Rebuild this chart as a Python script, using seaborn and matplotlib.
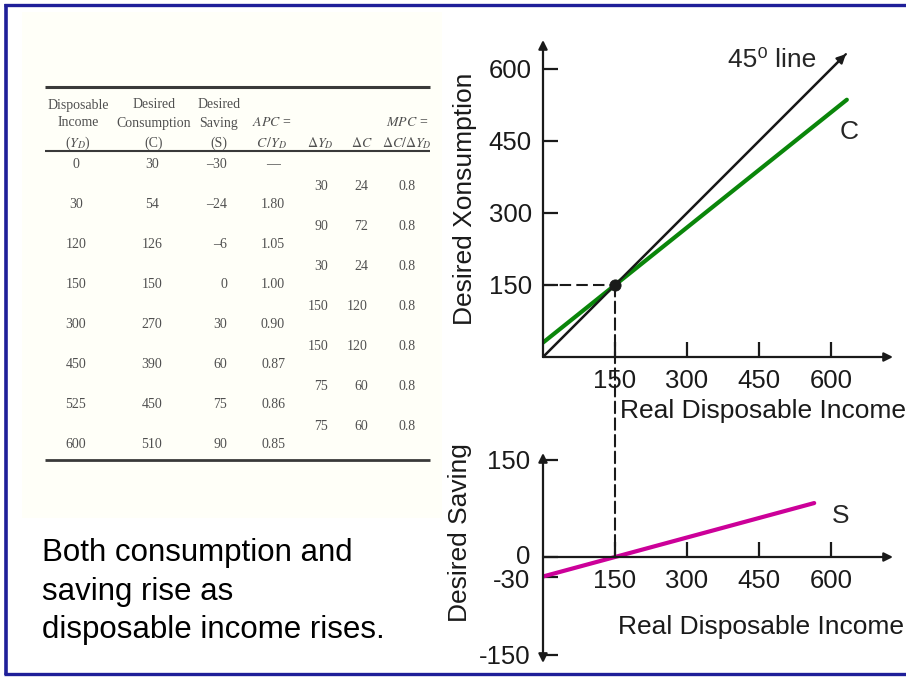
import matplotlib
matplotlib.use("Agg")
import matplotlib.pyplot as plt
import matplotlib.transforms as mtransforms
import seaborn as sns
from matplotlib.patches import Rectangle, ConnectionPatch

# ---------------- data ----------------
income = [0, 30, 120, 150, 300, 450, 525, 600]
consumption = [30, 54, 126, 150, 270, 390, 450, 510]
saving = [-30, -24, -6, 0, 30, 60, 75, 90]
apc = ["—", "1.80", "1.05", "1.00", "0.90", "0.87", "0.86", "0.85"]
delta_yd = [30, 90, 30, 150, 150, 75, 75]
delta_c = [24, 72, 24, 120, 120, 60, 60]
mpc = ["0.8", "0.8", "0.8", "0.8", "0.8", "0.8", "0.8"]

line45_x = [0, 631]
line45_y = [0, 631]
c_line_x = [0, 633]
c_line_y = [30, 536]
s_line_x = [0, 565]
s_line_y = [-30, 83]
eq_x = [150]
eq_y = [150]

top_xticks = [150, 300, 450, 600]
top_yticks = [150, 300, 450, 600]
bot_xticks = [150, 300, 450, 600]
bot_yticks = [150, 0, -30, -150]

# ---------------- style ----------------
sns.set_theme(style="white")
plt.rcParams["font.family"] = ["Liberation Sans", "DejaVu Sans"]
plt.rcParams["mathtext.fontset"] = "stix"
plt.rcParams["axes.unicode_minus"] = False

W, H = 906, 677
fig = plt.figure(figsize=(W / 100, H / 100), dpi=100)
fig.patch.set_facecolor("white")

# background / slide layer in pixel coordinates
bg = fig.add_axes([0, 0, 1, 1], zorder=-1)
bg.set_xlim(0, W)
bg.set_ylim(H, 0)
bg.axis("off")
bg.add_patch(Rectangle((22, 12), 420, 506, facecolor="#fffff8", edgecolor="none"))
border = "#1f1f99"
bg.plot([4, W], [5, 5], color=border, lw=2.4, solid_capstyle="butt")
bg.plot([6, 6], [4, 675], color=border, lw=2.6, solid_capstyle="butt")
bg.plot([4, W], [674, 674], color=border, lw=2.4, solid_capstyle="butt")

# ---------------- table ----------------
tc = "#505050"
serif = ["Liberation Serif", "DejaVu Serif"]
tfs = 10
bg.plot([45, 430], [87, 87], color="#3a3a3a", lw=2.2, solid_capstyle="butt")
bg.plot([45, 430], [151, 151], color="#3a3a3a", lw=1.5, solid_capstyle="butt")
bg.plot([45, 430], [460, 460], color="#3a3a3a", lw=2.0, solid_capstyle="butt")

headers = [
    (78, ["Disposable", "Income", r"($Y_D$)"]),
    (154, ["Desired", "Consumption", "(C)"]),
    (219, ["Desired", "Saving", "(S)"]),
    (272, ["", r"$APC$ =", r"$C\,/Y_D$"]),
    (320, ["", "", r"$\Delta Y_D$"]),
    (362, ["", "", r"$\Delta C$"]),
    (407, ["", r"$MPC$ =", r"$\Delta C/\Delta Y_D$"]),
]
head_y = [105, 123, 143]
for hx, lines in headers:
    for ly, s in zip(head_y, lines):
        if s:
            bg.text(hx, ly, s, ha="center", va="center", fontsize=tfs,
                    color=tc, family=serif)


def fmt_neg(v):
    return f"\u2013{abs(v)}" if v < 0 else f"{v}"


for i in range(len(income)):
    ry = 165 + 40 * i
    bg.text(76, ry, f"{income[i]}", ha="center", va="center", fontsize=tfs, color=tc, family=serif)
    bg.text(152, ry, f"{consumption[i]}", ha="center", va="center", fontsize=tfs, color=tc, family=serif)
    bg.text(227, ry, fmt_neg(saving[i]), ha="right", va="center", fontsize=tfs, color=tc, family=serif)
    bg.text(273, ry, apc[i], ha="center", va="center", fontsize=tfs, color=tc, family=serif)
for i in range(len(delta_yd)):
    ry = 186 + 40 * i
    bg.text(328, ry, f"{delta_yd[i]}", ha="right", va="center", fontsize=tfs, color=tc, family=serif)
    bg.text(368, ry, f"{delta_c[i]}", ha="right", va="center", fontsize=tfs, color=tc, family=serif)
    bg.text(407, ry, mpc[i], ha="center", va="center", fontsize=tfs, color=tc, family=serif)

# caption text
for ly, s in zip([561, 600, 638], ["Both consumption and", "saving rise as",
                                   "disposable income rises."]):
    bg.text(42, ly, s, ha="left", va="baseline", fontsize=22.5, color="black")

# ---------------- top chart ----------------
ox, oy1 = 543, 357
right_px, top_px = 893, 40
sc1 = 0.48
ax1 = fig.add_axes([ox / W, (H - oy1) / H, (right_px - ox) / W, (oy1 - top_px) / H])
ax1.set_facecolor("none")
xmax = (right_px - ox) / sc1
ax1.set_xlim(0, xmax)
ax1.set_ylim(0, (oy1 - top_px) / sc1)
for sp in ax1.spines.values():
    sp.set_visible(False)

arrow_kw = dict(arrowstyle="-|>", color="k", lw=1.6, mutation_scale=13,
                shrinkA=0, shrinkB=0)
ax1.annotate("", xy=(1, 0), xytext=(0, 0), xycoords="axes fraction",
             textcoords="axes fraction", arrowprops=arrow_kw)
ax1.annotate("", xy=(0, 1), xytext=(0, 0), xycoords="axes fraction",
             textcoords="axes fraction", arrowprops=arrow_kw)

ax1.set_xticks(top_xticks)
ax1.set_yticks(top_yticks)
ax1.tick_params(axis="x", direction="in", length=11, width=1.6, color="k",
                labelsize=18.5, labelcolor="k", pad=9, bottom=True)
ax1.tick_params(axis="y", direction="in", length=11, width=1.6, color="k",
                labelsize=18.5, labelcolor="k", pad=8, left=True)

sns.lineplot(x=line45_x, y=line45_y, ax=ax1, color="k", lw=1.6, estimator=None)
ax1.annotate("", xy=(line45_x[-1], line45_y[-1]), xytext=(line45_x[-2], line45_y[-2]),
             arrowprops=dict(arrowstyle="-|>", color="k", lw=1.6, mutation_scale=13,
                             shrinkA=0, shrinkB=0))
sns.lineplot(x=c_line_x, y=c_line_y, ax=ax1, color="#0a860a", lw=3, estimator=None)
ax1.plot([0, eq_x[0]], [eq_y[0], eq_y[0]], color="k", lw=1.5, dashes=(5.5, 2.5))
sns.scatterplot(x=eq_x, y=eq_y, ax=ax1, color="k", s=65, edgecolor="k", zorder=6)

ax1.annotate("45\u2070 line", xy=(line45_x[-1], line45_y[-1]), xytext=(-85, -4),
             textcoords="offset points", ha="left", va="center", fontsize=19)
ax1.annotate("C", xy=(c_line_x[-1], c_line_y[-1]), xytext=(1.5, -23),
             textcoords="offset points", ha="center", va="center", fontsize=19)

ax1.set_ylabel("Desired Xonsumption", fontsize=19, color="k", va="center")
ax1.yaxis.set_label_coords((465 - ox) / (right_px - ox), (oy1 - 199) / (oy1 - top_px))
ax1.set_xlabel("Real Disposable Income", fontsize=19, color="k", ha="left", va="center")
ax1.xaxis.set_label_coords((620 - ox) / (right_px - ox), (oy1 - 411) / (oy1 - top_px))

# ---------------- bottom chart ----------------
oy2 = 557
sc2 = 0.65
ylo, yhi = -163, 160
bot_px = oy2 - ylo * sc2
hgt_px = (yhi - ylo) * sc2
ax2 = fig.add_axes([ox / W, (H - bot_px) / H, (right_px - ox) / W, hgt_px / H])
ax2.set_facecolor("none")
ax2.set_xlim(0, xmax)
ax2.set_ylim(ylo, yhi)
for sp in ax2.spines.values():
    sp.set_visible(False)
ax2.spines["bottom"].set_position(("data", 0))

ax2.annotate("", xy=(0, 1), xytext=(0, 0), xycoords="axes fraction",
             textcoords="axes fraction",
             arrowprops=dict(arrowstyle="<|-|>", color="k", lw=1.6, mutation_scale=13,
                             shrinkA=0, shrinkB=0))
ax2.annotate("", xy=(1, 0), xytext=(0, 0), xycoords=("axes fraction", "data"),
             textcoords=("axes fraction", "data"), arrowprops=arrow_kw)

ax2.set_xticks(bot_xticks)
ax2.set_yticks(bot_yticks)
ax2.tick_params(axis="x", direction="in", length=11, width=1.6, color="k",
                labelsize=18.5, labelcolor="k", pad=9, bottom=True)
ax2.tick_params(axis="y", direction="in", length=11, width=1.6, color="k",
                labelsize=18.5, labelcolor="k", pad=9, left=True)

# small vertical nudges so "0" and "-30" labels do not collide
nudge = {0: 2.5, -30: -2.5}
for val, tick in zip(bot_yticks, ax2.yaxis.get_major_ticks()):
    if val in nudge:
        off = mtransforms.ScaledTranslation(0, nudge[val] / 100, fig.dpi_scale_trans)
        tick.label1.set_transform(tick.label1.get_transform() + off)

sns.lineplot(x=s_line_x, y=s_line_y, ax=ax2, color="#cc0099", lw=3, estimator=None)
ax2.annotate("S", xy=(s_line_x[-1], s_line_y[-1]), xytext=(19, -9.5),
             textcoords="offset points", ha="center", va="center", fontsize=19)

ax2.set_ylabel("Desired Saving", fontsize=19, color="k", va="center")
ax2.yaxis.set_label_coords((460 - ox) / (right_px - ox), (bot_px - 533) / hgt_px)
ax2.set_xlabel("Real Disposable Income", fontsize=19, color="k", ha="left", va="center")
ax2.xaxis.set_label_coords((618 - ox) / (right_px - ox), (bot_px - 627) / hgt_px)

# vertical dashed connector from equilibrium point to saving axis
con = ConnectionPatch(xyA=(eq_x[0], eq_y[0]), coordsA="data", axesA=ax1,
                      xyB=(eq_x[0], 0), coordsB="data", axesB=ax2,
                      color="k", lw=1.5, linestyle=(0, (5.5, 2.5)))
fig.add_artist(con)

fig.savefig("out.png", dpi=100)
